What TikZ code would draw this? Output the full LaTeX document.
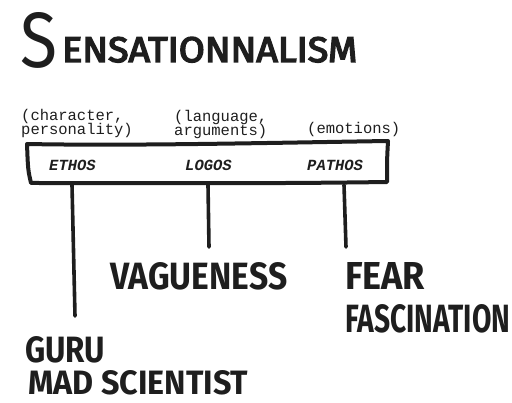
\documentclass[tikz,border=0pt]{standalone}
\usepackage{graphicx}
\usepackage{fontspec}
\newfontfamily\hand{Fira Sans}
\newfontfamily\handmid{Fira Sans}[FakeBold=4]
\newfontfamily\mono{Liberation Mono}
\definecolor{ink}{HTML}{1E1E1E}
\newcommand{\hw}[3]{\resizebox{#1pt}{#2pt}{#3}}
\begin{document}
\begin{tikzpicture}[x=1pt,y=-1pt,
  handtext/.style={inner sep=0pt, anchor=base west, text=ink, font=\hand\bfseries},
  monotext/.style={inner sep=0pt, anchor=base west, text=ink, align=left, font=\mono\fontsize{15.5}{12}\selectfont},
  pillar/.style={inner sep=0pt, anchor=base west, text=ink, font=\mono\bfseries\itshape\fontsize{15.5}{12}\selectfont},
  outline/.style={draw=ink, line width=4pt, line join=round, line cap=round},
  stem/.style={draw=ink, line width=3.6pt, line cap=round}]
\useasboundingbox (0,0) rectangle (512,403);
% title
\node[handtext, font=\hand] (tS) at (20,68) {\hw{37}{55}{S}};
\node[handtext, font=\handmid] (title) at (62,62) {\hw{295}{25}{ENSATIONNALISM}};
% annotations
\node[monotext] (charnote) at (21,135) {(character,\\[-1pt]personality)};
\node[monotext] (langnote) at (174,136) {(language,\\[-1pt]arguments)};
\node[monotext] (emonote) at (307,134) {(emotions)};
% bar
\node[minimum width=360pt, minimum height=40pt, inner sep=0pt] (bar) at (208,163) {};
\draw[outline] (27,144) .. controls (130,146) and (260,143) .. (388,141)
  .. controls (387,160) .. (387,182)
  .. controls (250,184) and (120,183) .. (31,183)
  .. controls (28,170) .. cycle;
\node[pillar] (ethos) at (49,171) {ETHOS};
\node[pillar] (logos) at (185,171) {LOGOS};
\node[pillar] (pathos) at (307,171) {PATHOS};
% stems
\coordinate (e1) at (72,185);
\coordinate (e2) at (75,316);
\coordinate (l1) at (208,185);
\coordinate (l2) at (209,247);
\coordinate (p1) at (344,185);
\coordinate (p2) at (346,247);
\draw[stem] (e1) -- (e2);
\draw[stem] (l1) -- (l2);
\draw[stem] (p1) -- (p2);
% handwritten labels
\node[handtext] (vague) at (110,290) {\hw{177}{27}{VAGUENESS}};
\node[handtext] (fear) at (345,290) {\hw{80}{27}{FEAR}};
\node[handtext] (fasc) at (345,333) {\hw{165}{28}{FASCINATION}};
\node[handtext] (guru) at (25,363) {\hw{80}{26}{GURU}};
\node[handtext] (mad) at (28,395) {\hw{220}{24}{MAD SCIENTIST}};
\end{tikzpicture}
\end{document}
